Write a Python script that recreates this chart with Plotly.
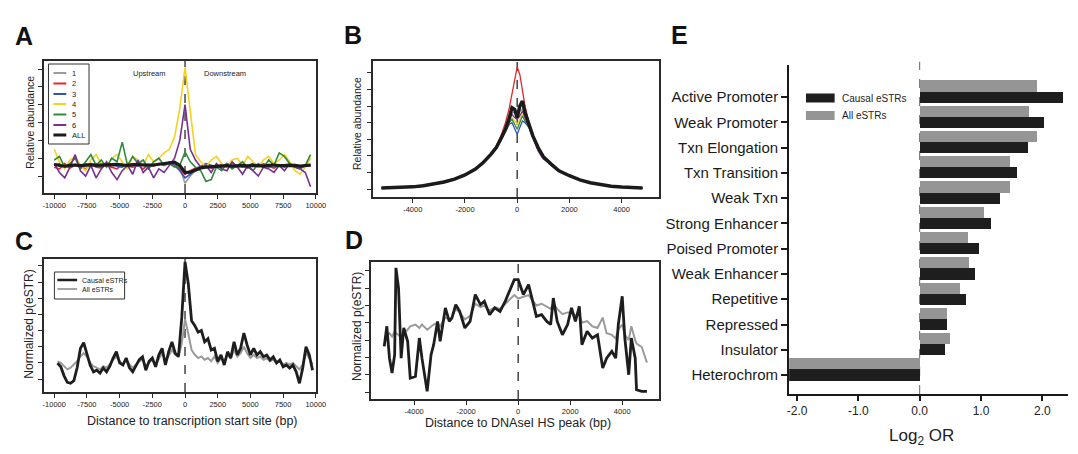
import plotly.graph_objects as go

W, H = 1078, 454
FONT = "Liberation Sans, Arial, sans-serif"

# ---------------- Panel A data (STR abundance around TSS) ----------------
X_A = [-10000, -9600, -9200, -8800, -8400, -8000, -7600, -7200, -6800, -6400,
       -6000, -5600, -5200, -4800, -4400, -4000, -3600, -3200, -2800, -2400,
       -2000, -1600, -1200, -800, -400, 0, 400, 800, 1200, 1600,
       2000, 2400, 2800, 3200, 3600, 4000, 4400, 4800, 5200, 5600,
       6000, 6400, 6800, 7200, 7600, 8000, 8400, 8800, 9200, 9600]
A_P1 = [0.70, 0.55, 0.50, 0.65, 0.60, 0.50, 0.70, 0.60, 0.55, 0.70,
        0.60, 0.50, 0.65, 0.70, 0.55, 0.60, 0.70, 0.60, 0.50, 0.65,
        0.70, 0.60, 0.70, 0.80, 0.45, -0.40, 0.00, 0.30, 0.45, 0.55,
        0.50, 0.60, 0.55, 0.65, 0.50, 0.60, 0.65, 0.50, 0.60, 0.55,
        0.60, 0.65, 0.60, 0.55, 0.60, 0.70, 0.60, 0.50, 0.55, 0.60]
A_P2 = [0.50, 0.40, 0.70, 0.45, 0.60, 0.55, 0.40, 0.70, 0.50, 0.45,
        0.65, 0.50, 0.40, 0.70, 0.55, 0.50, 0.60, 0.40, 0.65, 0.55,
        0.70, 0.60, 0.80, 0.70, 0.40, 0.10, 0.30, 0.45, 0.50, 0.60,
        0.45, 0.55, 0.50, 0.70, 0.60, 0.50, 0.55, 0.45, 0.60, 0.50,
        0.70, 0.55, 0.45, 0.60, 0.50, 0.65, 0.50, 0.45, 0.60, 0.55]
A_P3 = [0.60, 0.70, 0.50, 0.55, 0.65, 0.50, 0.60, 0.55, 0.70, 0.50,
        0.60, 0.65, 0.55, 0.50, 0.70, 0.60, 0.55, 0.65, 0.50, 0.60,
        0.70, 0.65, 0.75, 0.60, 0.30, -0.10, 0.10, 0.40, 0.55, 0.70,
        0.60, 0.50, 0.65, 0.55, 0.70, 0.60, 0.50, 0.60, 0.70, 0.55,
        0.60, 0.50, 0.65, 0.60, 0.55, 0.60, 0.65, 0.50, 0.60, 0.65]
A_P4 = [1.50, 0.80, 0.40, 0.90, 1.10, 0.60, 0.30, 0.90, 1.20, 0.70,
        0.50, 1.00, 1.20, 0.80, 0.40, 1.10, 0.90, 0.60, 1.20, 0.80,
        1.00, 1.30, 1.50, 2.20, 3.80, 6.10, 3.50, 1.20, 0.80, 0.50,
        0.90, 1.10, 0.70, 0.50, 0.90, 1.00, 0.60, 1.10, 0.80, 0.50,
        0.90, 1.10, 0.70, 0.90, 1.20, 0.80, 0.30, 0.10, 0.50, 1.00]
A_P5 = [0.90, 1.10, 0.50, 0.70, 1.00, 0.40, 0.80, 1.20, 0.60, 0.90,
        0.50, 1.00, 0.80, 1.90, 0.60, 1.10, 0.70, 0.90, 0.40, 0.80,
        1.00, 0.60, 0.70, 0.50, 0.60, 1.35, 0.80, 0.50, 0.30, -0.30,
        -0.20, 0.50, 0.30, 0.70, 0.40, 0.60, 0.80, 0.50, 0.30, 0.70,
        0.50, 0.90, 0.60, 1.30, 1.10, 0.70, 0.50, 0.40, 0.60, 1.20]
A_P6 = [0.70, 0.20, -0.10, 0.50, 1.20, 0.30, 0.00, 0.60, -0.10, 0.40,
        0.80, 0.20, -0.20, 0.30, 0.60, 0.10, 0.90, 0.20, 0.50, -0.10,
        0.40, 0.20, 0.60, 1.00, 2.00, 4.00, 1.50, 0.90, 0.50, 0.60,
        0.20, 0.70, 0.40, 0.30, 0.80, 0.50, 0.10, 0.60, 0.30, 0.00,
        0.50, 0.40, 0.20, 0.60, 0.30, 0.70, 0.50, 0.40, 0.20, -0.60]
A_ALL = [0.65, 0.60, 0.55, 0.60, 0.62, 0.58, 0.60, 0.64, 0.60, 0.62,
         0.60, 0.64, 0.66, 0.62, 0.60, 0.64, 0.66, 0.62, 0.60, 0.62,
         0.66, 0.70, 0.74, 0.78, 0.60, 0.20, 0.22, 0.35, 0.45, 0.50,
         0.52, 0.55, 0.56, 0.58, 0.55, 0.58, 0.60, 0.56, 0.60, 0.58,
         0.56, 0.60, 0.62, 0.58, 0.60, 0.62, 0.60, 0.56, 0.60, 0.62]
PERIOD_NAMES = ["1", "2", "3", "4", "5", "6", "ALL"]

# ---------------- Panel B data (STR abundance around DNaseI HS) ----------------
X_B = [-5200, -4800, -4400, -4000, -3600, -3200, -2800, -2400, -2000, -1600,
       -1300, -1000, -800, -600, -450, -300, -200, -100, 0, 100,
       200, 300, 450, 600, 800, 1000, 1300, 1600, 2000, 2400,
       2800, 3200, 3600, 4000, 4400, 4800]
B_P1 = [0.06, 0.08, 0.10, 0.14, 0.21, 0.31, 0.43, 0.62, 0.86, 1.22,
        1.62, 2.10, 2.52, 3.10, 3.60, 4.20, 4.60, 4.60, 4.50, 4.70,
        4.80, 4.30, 3.80, 3.20, 2.50, 1.95, 1.50, 1.10, 0.80, 0.55,
        0.38, 0.26, 0.18, 0.12, 0.08, 0.06]
B_P2 = [0.05, 0.07, 0.10, 0.14, 0.20, 0.30, 0.42, 0.60, 0.86, 1.22,
        1.62, 2.15, 2.60, 3.30, 4.00, 4.90, 5.70, 6.60, 7.35, 6.90,
        6.00, 5.00, 4.00, 3.20, 2.50, 1.95, 1.50, 1.10, 0.80, 0.55,
        0.38, 0.25, 0.17, 0.12, 0.08, 0.06]
B_P3 = [0.06, 0.07, 0.10, 0.13, 0.19, 0.29, 0.41, 0.60, 0.84, 1.18,
        1.58, 2.05, 2.45, 3.00, 3.50, 3.90, 4.00, 3.60, 3.30, 3.70,
        4.10, 4.00, 3.70, 3.10, 2.40, 1.90, 1.45, 1.08, 0.78, 0.54,
        0.37, 0.25, 0.17, 0.12, 0.08, 0.06]
B_P4 = [0.06, 0.07, 0.10, 0.13, 0.20, 0.30, 0.42, 0.60, 0.85, 1.20,
        1.60, 2.10, 2.50, 3.05, 3.55, 4.10, 4.30, 4.10, 3.90, 4.20,
        4.50, 4.20, 3.80, 3.15, 2.45, 1.95, 1.50, 1.10, 0.80, 0.55,
        0.38, 0.25, 0.17, 0.12, 0.08, 0.06]
B_P5 = [0.06, 0.07, 0.10, 0.13, 0.20, 0.30, 0.42, 0.62, 0.85, 1.20,
        1.60, 2.10, 2.50, 3.05, 3.50, 4.00, 4.20, 3.90, 3.60, 4.00,
        4.40, 4.10, 3.75, 3.10, 2.45, 1.90, 1.50, 1.10, 0.80, 0.55,
        0.40, 0.25, 0.17, 0.12, 0.08, 0.06]
B_P6 = [0.06, 0.07, 0.11, 0.14, 0.21, 0.32, 0.48, 0.62, 0.86, 1.20,
        1.60, 2.10, 2.50, 3.10, 3.60, 4.20, 4.50, 4.30, 4.20, 4.40,
        4.70, 4.30, 3.80, 3.10, 2.30, 1.80, 1.50, 1.10, 0.80, 0.55,
        0.38, 0.25, 0.17, 0.12, 0.08, 0.06]
B_ALL = [0.06, 0.07, 0.10, 0.13, 0.20, 0.30, 0.42, 0.60, 0.85, 1.20,
         1.60, 2.10, 2.50, 3.10, 3.60, 4.30, 4.90, 4.80, 4.30, 5.00,
         5.30, 4.60, 3.90, 3.20, 2.50, 1.95, 1.50, 1.10, 0.80, 0.55,
         0.38, 0.25, 0.17, 0.12, 0.08, 0.06]

# ---------------- Panel C data (eSTRs around TSS) ----------------
X_C = [-9750, -9500, -9250, -9000, -8750, -8500, -8250, -8000, -7750, -7500,
       -7250, -7000, -6750, -6500, -6250, -6000, -5750, -5500, -5250, -5000,
       -4750, -4500, -4250, -4000, -3750, -3500, -3250, -3000, -2750, -2500,
       -2250, -2000, -1750, -1500, -1250, -1000, -750, -500, -250, 0,
       250, 500, 750, 1000, 1250, 1500, 1750, 2000, 2250, 2500,
       2750, 3000, 3250, 3500, 3750, 4000, 4250, 4500, 4750, 5000,
       5250, 5500, 5750, 6000, 6250, 6500, 6750, 7000, 7250, 7500,
       7750, 8000, 8250, 8500, 8750, 9000, 9250, 9500, 9750]
C_CAUSAL = [0.99, 0.76, 0.20, -0.20, -0.26, -0.10, 0.70, 1.90, 2.25, 1.60,
            0.85, 0.45, 0.55, 0.37, 0.68, 0.45, 0.80, 1.30, 1.69, 1.00,
            0.87, 1.30, 0.70, 0.45, 0.87, 1.20, 1.38, 0.55, 1.10, 1.30,
            0.76, 1.50, 1.90, 0.87, 1.70, 2.30, 1.60, 1.40, 3.80, 7.25,
            5.90, 3.60, 3.30, 2.90, 3.00, 2.30, 2.50, 1.80, 1.90, 1.10,
            1.49, 0.87, 1.69, 1.30, 2.31, 1.49, 1.90, 2.85, 2.10, 1.49,
            1.90, 1.49, 1.69, 1.38, 1.49, 1.18, 1.38, 0.99, 1.18, 0.76,
            0.87, 0.68, 0.87, 0.45, -0.26, 0.68, 2.00, 1.49, 0.55]
C_ALL = [1.10, 1.00, 0.80, 0.60, 0.70, 0.90, 1.10, 1.40, 1.60, 1.40,
         1.00, 0.80, 0.70, 0.60, 0.80, 0.70, 0.90, 1.20, 1.40, 1.10,
         0.90, 1.20, 0.90, 0.70, 0.90, 1.10, 1.20, 0.80, 1.00, 1.20,
         0.90, 1.30, 1.60, 1.10, 1.50, 1.80, 1.50, 1.40, 2.20, 3.70,
         2.80, 1.80, 1.50, 1.30, 1.40, 1.20, 1.30, 1.10, 1.40, 1.00,
         1.30, 1.10, 1.50, 1.30, 1.80, 1.40, 1.60, 2.00, 1.60, 1.30,
         1.50, 1.30, 1.40, 1.20, 1.30, 1.10, 1.20, 1.00, 1.10, 0.90,
         1.00, 0.90, 1.00, 0.80, 0.60, 0.90, 1.60, 1.30, 0.90]

# ---------------- Panel D data (eSTRs around DNaseI HS peak) ----------------
X_D = [-5150, -5050, -4950, -4850, -4750, -4700, -4600, -4500, -4400, -4250,
       -4150, -3950, -3800, -3700, -3500, -3350, -3250, -3100, -3000, -2800,
       -2650, -2550, -2400, -2250, -2050, -1850, -1650, -1450, -1300, -1100,
       -900, -700, -500, -350, -150, 0, 200, 400, 550, 700,
       900, 1100, 1250, 1350, 1500, 1700, 1900, 2050, 2200, 2350,
       2450, 2650, 2850, 3050, 3250, 3400, 3600, 3750, 3850, 4000,
       4100, 4250, 4350, 4500, 4550, 4750, 4950]
D_CAUSAL = [2.64, 3.80, 1.96, 1.10, 2.16, 7.17, 6.00, 1.96, 3.70, 2.93,
            0.80, 0.90, 3.12, 1.96, 0.04, 2.16, 2.74, 4.08, 2.93, 4.86,
            4.08, 4.27, 5.05, 4.66, 3.70, 4.08, 5.63, 5.05, 5.24, 4.47,
            4.86, 4.66, 5.24, 5.82, 6.49, 6.49, 5.63, 6.20, 5.24, 4.37,
            4.47, 4.08, 3.90, 5.43, 4.08, 3.31, 3.90, 4.86, 4.08, 4.95,
            2.74, 3.51, 3.12, 3.31, 1.39, 1.96, 2.35, 1.96, 3.90, 5.53,
            3.12, 1.00, 3.12, 1.96, 0.13, 0.04, 0.04]
D_ALL = [2.70, 3.30, 3.40, 3.20, 3.50, 3.40, 3.30, 3.10, 3.40, 3.60,
         3.80, 3.90, 3.70, 3.90, 3.60, 3.80, 3.90, 4.00, 3.80, 4.30,
         4.20, 4.30, 4.80, 4.60, 4.20, 4.40, 5.10, 4.90, 5.00, 4.70,
         4.90, 4.80, 5.10, 5.30, 5.60, 5.40, 5.50, 5.60, 5.30, 5.00,
         5.10, 4.90, 4.80, 5.10, 4.80, 4.50, 4.60, 4.60, 4.40, 4.50,
         4.00, 4.10, 3.80, 3.70, 4.30, 3.40, 3.30, 3.10, 3.60, 3.90,
         3.30, 3.00, 3.80, 3.00, 2.80, 2.60, 1.70]
ESTR_NAMES = ["Causal eSTRs", "All eSTRs"]

# ---------------- Panel E data (chromatin state enrichment) ----------------
E_STATES = ["Active Promoter", "Weak Promoter", "Txn Elongation", "Txn Transition",
            "Weak Txn", "Strong Enhancer", "Poised Promoter", "Weak Enhancer",
            "Repetitive", "Repressed", "Insulator", "Heterochrom"]
E_CAUSAL = [2.34, 2.03, 1.77, 1.59, 1.32, 1.17, 0.97, 0.90, 0.76, 0.45, 0.42, -2.60]
E_ALL = [1.92, 1.79, 1.92, 1.47, 1.47, 1.05, 0.79, 0.81, 0.66, 0.45, 0.49, -2.60]
E_XTICKS = [-2.0, -1.0, 0.0, 1.0, 2.0]
A_XTICKS = [-10000, -7500, -5000, -2500, 0, 2500, 5000, 7500, 10000]
B_XTICKS = [-4000, -2000, 0, 2000, 4000]

for xs, series in [(X_A, [A_P1, A_P2, A_P3, A_P4, A_P5, A_P6, A_ALL]),
                   (X_B, [B_P1, B_P2, B_P3, B_P4, B_P5, B_P6, B_ALL]),
                   (X_C, [C_CAUSAL, C_ALL]), (X_D, [D_CAUSAL, D_ALL])]:
    for s in series:
        assert len(s) == len(xs), (len(s), len(xs))

# ---------------- styling ----------------
PERIOD_COLORS = ["#9c9c9c", "#e4272b", "#3553b0", "#f4d21f", "#2e8b3c", "#78308f", "#1b1b1b"]
CAUSAL_COLOR = "#1e1e1e"
ALL_COLOR = "#9a9a9a"


def px(x):
    return x / W


def py(y):
    return 1 - y / H


fig = go.Figure()

# Panel A
for name, col, ys in zip(PERIOD_NAMES, PERIOD_COLORS, [A_P1, A_P2, A_P3, A_P4, A_P5, A_P6, A_ALL]):
    fig.add_trace(go.Scatter(x=X_A, y=ys, mode="lines", name=name, showlegend=False,
                             line=dict(color=col, width=3.2 if name == "ALL" else 1.6),
                             xaxis="x", yaxis="y"))

# Panel B (red drawn before black, black thick on top)
b_order = [0, 2, 3, 4, 5, 1, 6]
b_series = [B_P1, B_P2, B_P3, B_P4, B_P5, B_P6, B_ALL]
for i in b_order:
    fig.add_trace(go.Scatter(x=X_B, y=b_series[i], mode="lines", name=PERIOD_NAMES[i], showlegend=False,
                             line=dict(color=PERIOD_COLORS[i], width=3.5 if i == 6 else 1.3),
                             xaxis="x2", yaxis="y2"))

# Panel C
fig.add_trace(go.Scatter(x=X_C, y=C_ALL, mode="lines", name=ESTR_NAMES[1], showlegend=False,
                         line=dict(color=ALL_COLOR, width=2), xaxis="x3", yaxis="y3"))
fig.add_trace(go.Scatter(x=X_C, y=C_CAUSAL, mode="lines", name=ESTR_NAMES[0], showlegend=False,
                         line=dict(color=CAUSAL_COLOR, width=2.8), xaxis="x3", yaxis="y3"))

# Panel D
fig.add_trace(go.Scatter(x=X_D, y=D_ALL, mode="lines", name=ESTR_NAMES[1], showlegend=False,
                         line=dict(color=ALL_COLOR, width=2), xaxis="x4", yaxis="y4"))
fig.add_trace(go.Scatter(x=X_D, y=D_CAUSAL, mode="lines", name=ESTR_NAMES[0], showlegend=False,
                         line=dict(color=CAUSAL_COLOR, width=2.8), xaxis="x4", yaxis="y4"))

# Panel E
GRAY_OFFSET = -0.44
BAR_W = 0.44
pos = list(range(len(E_STATES)))
fig.add_trace(go.Bar(x=E_ALL, y=[p + GRAY_OFFSET for p in pos], orientation="h", width=BAR_W,
                     marker=dict(color="#959595", line=dict(width=0)), name=ESTR_NAMES[1],
                     showlegend=False, xaxis="x5", yaxis="y5"))
fig.add_trace(go.Bar(x=E_CAUSAL, y=pos, orientation="h", width=BAR_W,
                     marker=dict(color="#1e1e1e", line=dict(width=0)), name=ESTR_NAMES[0],
                     showlegend=False, xaxis="x5", yaxis="y5"))

box_axis = dict(showline=True, linecolor="#2a2a2a", linewidth=1.6, mirror=True, ticks="outside",
                ticklen=4, tickwidth=1, tickcolor="#2a2a2a", showgrid=False, zeroline=False,
                tickfont=dict(size=7.5, color="#222", family=FONT))

layout = dict(
    width=W, height=H, margin=dict(l=0, r=0, t=0, b=0),
    paper_bgcolor="white", plot_bgcolor="white", showlegend=False,
    font=dict(family=FONT, color="#222"), bargap=0,
    xaxis=dict(box_axis, domain=[px(42), px(318)], range=[-10820, 10050],
               tickvals=A_XTICKS, ticktext=[str(v) for v in A_XTICKS], anchor="y"),
    yaxis=dict(box_axis, domain=[py(193), py(61)], range=[-0.95, 6.45],
               tickvals=[0, 1, 2, 3, 4, 5, 6], showticklabels=False, anchor="x"),
    xaxis2=dict(box_axis, domain=[px(375), px(664)], range=[-5530, 5417],
                tickvals=B_XTICKS, ticktext=[str(v) for v in B_XTICKS], anchor="y2"),
    yaxis2=dict(box_axis, domain=[py(197), py(61)], range=[-0.48, 7.71],
                tickvals=[0, 1, 2, 3, 4, 5, 6, 7], showticklabels=False, anchor="x2"),
    xaxis3=dict(box_axis, domain=[px(42), px(318)], range=[-10820, 10050],
                tickvals=A_XTICKS, ticktext=[str(v) for v in A_XTICKS], anchor="y3"),
    yaxis3=dict(box_axis, domain=[py(392), py(259)], range=[-0.8, 7.43],
                tickvals=[0, 1, 2, 3, 4, 5, 6, 7], showticklabels=False, anchor="x3"),
    xaxis4=dict(box_axis, domain=[px(373), px(664)], range=[-5665, 5399],
                tickvals=B_XTICKS, ticktext=[str(v) for v in B_XTICKS], anchor="y4"),
    yaxis4=dict(box_axis, domain=[py(399), py(262)], range=[-0.4, 7.51],
                tickvals=[0, 1, 2, 3, 4, 5, 6, 7], showticklabels=False, anchor="x4"),
    xaxis5=dict(domain=[px(796), 1.0], range=[-2.129, 2.419], anchor="y5",
                showline=True, linecolor="#1a1a1a", linewidth=2, mirror=False,
                ticks="outside", ticklen=5, tickwidth=1.5, tickcolor="#1a1a1a",
                showgrid=False, zeroline=False, tickvals=E_XTICKS,
                ticktext=["%.1f" % v for v in E_XTICKS],
                tickfont=dict(size=12, color="#222", family=FONT)),
    yaxis5=dict(domain=[py(394), py(65)], range=[11.75, -1.27], anchor="x5",
                showline=True, linecolor="#1a1a1a", linewidth=2, mirror=False,
                ticks="outside", ticklen=6, tickwidth=1.5, tickcolor="#1a1a1a",
                showgrid=False, zeroline=False, tickvals=pos, ticktext=E_STATES,
                tickfont=dict(size=15, color="#1a1a1a", family=FONT)),
)
fig.update_layout(**layout)

shapes = []
# dashed zero lines
for xr, yr in [("x", "y"), ("x2", "y2"), ("x3", "y3"), ("x4", "y4")]:
    shapes.append(dict(type="line", xref=xr, yref=yr + " domain", x0=0, x1=0, y0=0, y1=1,
                       line=dict(color="#444", width=1.5, dash="dash"), layer="below"))
shapes.append(dict(type="line", xref="x5", yref="y5 domain", x0=0, x1=0, y0=0, y1=1.01,
                   line=dict(color="#666", width=1, dash="dash"), layer="below"))

annotations = []
# panel letters
for letter, (lx, ly) in zip("ABCDE", [(22, 36), (355, 35), (22, 241), (356, 240), (685, 35)]):
    annotations.append(dict(text="<b>%s</b>" % letter, x=px(lx), y=py(ly), xref="paper", yref="paper",
                            showarrow=False, xanchor="center", yanchor="middle",
                            font=dict(size=25, color="#111", family=FONT)))

# Panel A legend (manual)
shapes.append(dict(type="rect", xref="paper", yref="paper", x0=px(47), x1=px(88), y0=py(144), y1=py(64),
                   line=dict(color="#333", width=1), fillcolor="white", layer="above"))
rows_a = [73, 83.5, 94, 104, 114.5, 125, 135]
for name, col, ry in zip(PERIOD_NAMES, PERIOD_COLORS, rows_a):
    shapes.append(dict(type="line", xref="paper", yref="paper", x0=px(52), x1=px(65), y0=py(ry), y1=py(ry),
                       line=dict(color=col, width=3 if name == "ALL" else 2), layer="above"))
    annotations.append(dict(text=name, x=px(69), y=py(ry), xref="paper", yref="paper", showarrow=False,
                            xanchor="left", yanchor="middle", font=dict(size=7.5, color="#222")))
annotations.append(dict(text="Upstream", x=px(149), y=py(73), xref="paper", yref="paper", showarrow=False,
                        xanchor="center", yanchor="middle", font=dict(size=7.5, color="#222")))
annotations.append(dict(text="Downstream", x=px(226), y=py(73), xref="paper", yref="paper", showarrow=False,
                        xanchor="center", yanchor="middle", font=dict(size=7.5, color="#222")))

# Panel C legend (manual)
shapes.append(dict(type="rect", xref="paper", yref="paper", x0=px(53), x1=px(124), y0=py(299), y1=py(272),
                   line=dict(color="#333", width=1), fillcolor="white", layer="above"))
for name, col, ry, lw in [(ESTR_NAMES[0], CAUSAL_COLOR, 280, 2.5), (ESTR_NAMES[1], ALL_COLOR, 289, 1.8)]:
    shapes.append(dict(type="line", xref="paper", yref="paper", x0=px(56), x1=px(76), y0=py(ry), y1=py(ry),
                       line=dict(color=col, width=lw), layer="above"))
    annotations.append(dict(text=name, x=px(79), y=py(ry), xref="paper", yref="paper", showarrow=False,
                            xanchor="left", yanchor="middle", font=dict(size=7, color="#222")))

# Panel E legend (manual)
for name, col, ry in [(ESTR_NAMES[0], "#1e1e1e", 98), (ESTR_NAMES[1], "#959595", 115.5)]:
    shapes.append(dict(type="rect", xref="paper", yref="paper", x0=px(813), x1=px(842),
                       y0=py(ry + 4.5), y1=py(ry - 4.5), line=dict(width=0), fillcolor=col, layer="above"))
    annotations.append(dict(text=name, x=px(847), y=py(ry), xref="paper", yref="paper", showarrow=False,
                            xanchor="left", yanchor="middle", font=dict(size=10, color="#222")))

# axis titles
for txt, (tx, ty), size in [("Relative abundance", (28, 122), 10.5), ("Relative abundance", (359, 124), 10.5),
                            ("Normalized p(eSTR)", (27, 324), 12), ("Normalized p(eSTR)", (359, 327), 12)]:
    annotations.append(dict(text=txt, x=px(tx), y=py(ty), xref="paper", yref="paper", showarrow=False,
                            textangle=-90, xanchor="center", yanchor="middle",
                            font=dict(size=size, color="#222")))
annotations.append(dict(text="Distance to transcription start site (bp)", x=px(193), y=py(421),
                        xref="paper", yref="paper", showarrow=False, xanchor="center", yanchor="middle",
                        font=dict(size=12.5, color="#222")))
annotations.append(dict(text="Distance to DNAseI HS peak (bp)", x=px(522), y=py(423),
                        xref="paper", yref="paper", showarrow=False, xanchor="center", yanchor="middle",
                        font=dict(size=12.5, color="#222")))
annotations.append(dict(text="Log<sub>2</sub> OR", x=px(930), y=py(437), xref="paper", yref="paper",
                        showarrow=False, xanchor="center", yanchor="middle",
                        font=dict(size=17, color="#222")))

fig.update_layout(shapes=shapes, annotations=annotations)
fig.write_html("out.html")
